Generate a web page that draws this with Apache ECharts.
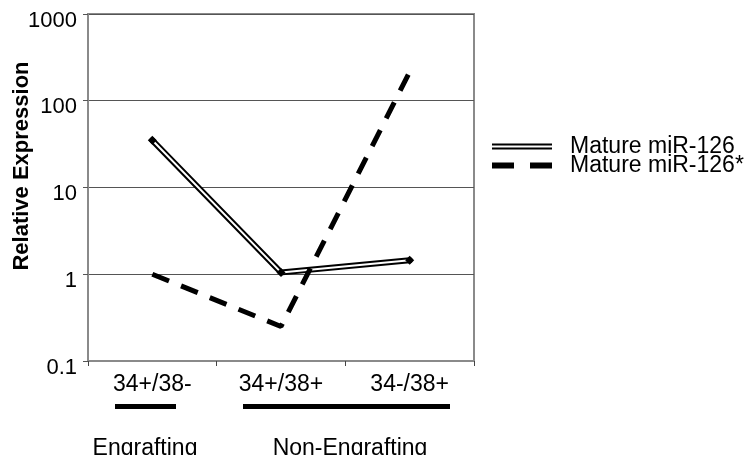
<!DOCTYPE html>
<html>
<head>
<meta charset="utf-8">
<script src="https://cdn.jsdelivr.net/npm/echarts@6/dist/echarts.min.js"></script>
<style>
html,body{margin:0;padding:0;background:#fff;}
#chart{width:749px;height:455px;}
</style>
</head>
<body>
<div id="chart"></div>
<script>
const categories = ['34+/38-', '34+/38+', '34-/38+'];
const matureMiR126 = [35, 1.05, 1.45];
const matureMiR126Star = [1.0, 0.25, 215];
const yTickLabels = ['0.1', '1', '10', '100', '1000'];
const seriesNames = ['Mature miR-126', 'Mature miR-126*'];
const groupLabels = ['Engrafting', 'Non-Engrafting'];
const yAxisTitle = 'Relative Expression';

const FONT = '"Liberation Sans", Arial, sans-serif';
const chart = echarts.init(document.getElementById('chart'));

const option = {
  animation: false,
  backgroundColor: '#fff',
  grid: {
    left: 88, right: 275, top: 14, bottom: 94,
    show: true, borderColor: '#8a8a8a', borderWidth: 2
  },
  xAxis: {
    type: 'category',
    data: categories,
    boundaryGap: true,
    axisLine: { show: true, lineStyle: { color: '#8a8a8a', width: 2 } },
    axisTick: { show: true, length: 5, lineStyle: { color: '#444', width: 1 } },
    axisLabel: { fontFamily: FONT, fontSize: 23, color: '#000', margin: 12 },
    splitLine: { show: false }
  },
  yAxis: {
    type: 'log',
    logBase: 10,
    min: 0.1,
    max: 1000,
    axisLine: { show: true, lineStyle: { color: '#8a8a8a', width: 2 } },
    axisTick: { show: true, length: 5, lineStyle: { color: '#555', width: 1 } },
    axisLabel: {
      margin: 11,
      formatter: function (v) {
        const i = Math.round(Math.log10(v)) + 1;
        return yTickLabels[i] !== undefined ? '{t|' + yTickLabels[i] + '}' : '';
      },
      rich: {
        t: { fontFamily: FONT, fontSize: 22, color: '#000', padding: [13, 0, 0, 0] }
      }
    },
    splitLine: { show: true, lineStyle: { color: '#555', width: 1 } }
  },
  legend: {
    orient: 'vertical',
    left: 492,
    top: 135,
    itemWidth: 60,
    itemHeight: 6,
    itemGap: -4,
    padding: 0,
    textStyle: { fontFamily: FONT, fontSize: 23, color: '#000', padding: [0, 0, 0, 13] },
    data: [
      { name: seriesNames[0], icon: 'path://M0,0H60V2H0Z M0,4H60V6H0Z' },
      { name: seriesNames[1], icon: 'path://M0,0H22V6H0Z M38,0H60V6H38Z' }
    ]
  },
  series: [
    {
      name: seriesNames[0],
      type: 'line',
      data: matureMiR126,
      color: '#000',
      symbol: 'none',
      lineStyle: { color: '#000', width: 6, cap: 'round', join: 'miter' },
      z: 2
    },
    {
      name: 'inner',
      type: 'line',
      data: matureMiR126,
      color: '#fff',
      symbol: 'none',
      lineStyle: { color: '#fff', width: 2, cap: 'butt' },
      z: 3
    },
    {
      name: 'markers',
      type: 'line',
      data: matureMiR126,
      symbol: 'diamond',
      symbolSize: [9, 9],
      showSymbol: true,
      itemStyle: { color: '#000' },
      lineStyle: { opacity: 0 },
      z: 4
    },
    {
      name: seriesNames[1],
      type: 'line',
      data: matureMiR126Star,
      color: '#000',
      symbol: 'none',
      lineStyle: { color: '#000', width: 5, type: [18, 13], cap: 'butt' },
      z: 5
    }
  ],
  graphic: [
    {
      type: 'text', x: 22, y: 166, rotation: Math.PI / 2,
      style: { text: yAxisTitle, fontFamily: FONT, fontSize: 22, fontWeight: 'bold', fill: '#000', align: 'center', verticalAlign: 'middle' }
    },
    { type: 'rect', shape: { x: 115, y: 404, width: 61, height: 5 }, style: { fill: '#000' } },
    { type: 'rect', shape: { x: 243, y: 404, width: 207, height: 5 }, style: { fill: '#000' } },
    {
      type: 'text', x: 145, y: 437,
      style: { text: groupLabels[0], fontFamily: FONT, fontSize: 23, fill: '#000', align: 'center', verticalAlign: 'top' }
    },
    {
      type: 'text', x: 350, y: 437,
      style: { text: groupLabels[1], fontFamily: FONT, fontSize: 23, fill: '#000', align: 'center', verticalAlign: 'top' }
    }
  ]
};
chart.setOption(option);
</script>
</body>
</html>
